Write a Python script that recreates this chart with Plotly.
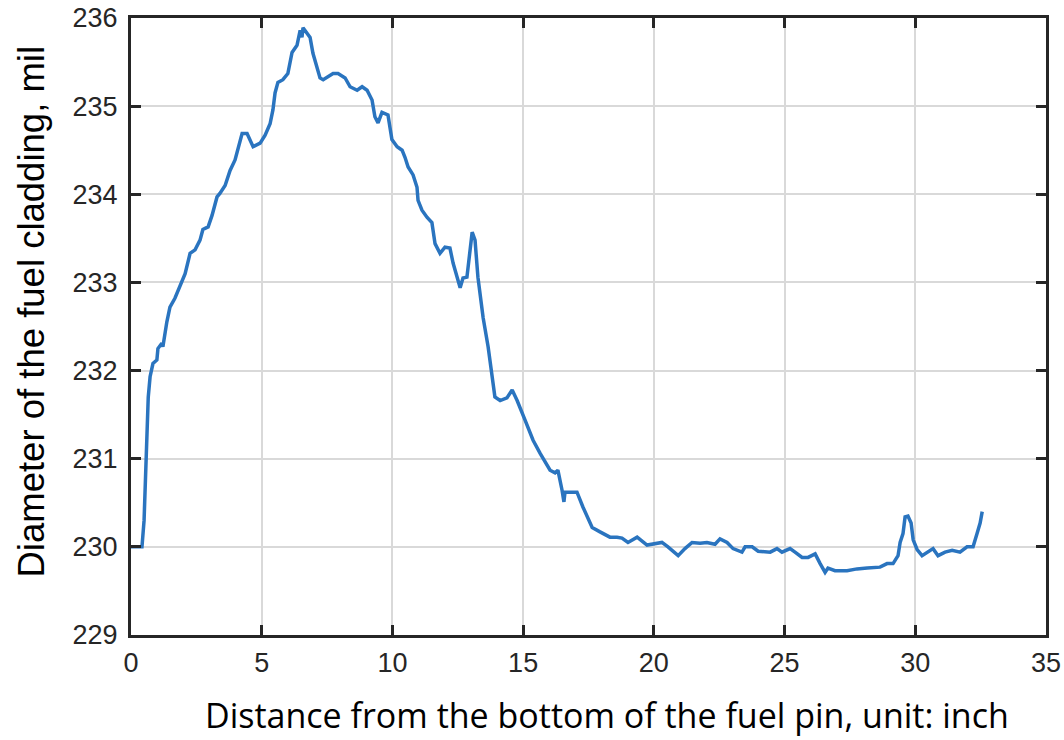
import plotly.graph_objects as go

distance_inch = [
    0, 0.42, 0.5, 0.54, 0.6, 0.66, 0.73, 0.84, 0.99, 1.03, 1.18, 1.22, 1.37, 1.49, 1.68, 1.87,
    2.07, 2.26, 2.45, 2.64, 2.75, 2.95, 3.1, 3.29, 3.4, 3.6, 3.79, 3.98, 4.17, 4.25, 4.44, 4.67,
    4.94, 5.13, 5.32, 5.43, 5.51, 5.62, 5.81, 6.0, 6.16, 6.35, 6.47, 6.54, 6.58, 6.73, 6.85, 6.96,
    7.12, 7.23, 7.35, 7.54, 7.73, 7.92, 8.19, 8.38, 8.65, 8.84, 9.03, 9.22, 9.33, 9.45, 9.6, 9.83,
    9.98, 10.18, 10.37, 10.48, 10.6, 10.79, 10.94, 10.98, 11.13, 11.32, 11.51, 11.63, 11.82, 12.01,
    12.2, 12.32, 12.47, 12.59, 12.7, 12.85, 13.05, 13.16, 13.27, 13.47, 13.66, 13.92, 14.12, 14.38,
    14.58, 14.77, 15.07, 15.38, 15.65, 16.03, 16.22, 16.33, 16.49, 16.56, 16.6, 16.79, 17.06, 17.29,
    17.64, 17.94, 18.32, 18.59, 18.78, 19.01, 19.36, 19.74, 20.12, 20.31, 20.54, 20.93, 21.19, 21.46,
    21.77, 22.03, 22.34, 22.53, 22.8, 23.03, 23.37, 23.49, 23.76, 23.99, 24.45, 24.71, 24.9, 25.21,
    25.4, 25.67, 25.9, 26.17, 26.36, 26.55, 26.66, 26.93, 27.39, 27.77, 28.16, 28.65, 28.92, 29.15,
    29.34, 29.42, 29.53, 29.61, 29.72, 29.84, 29.92, 30.07, 30.26, 30.49, 30.68, 30.87, 31.14, 31.41,
    31.71, 31.98, 32.21, 32.36, 32.48, 32.56,
]

diameter_mil = [
    230.0, 230.0, 230.3, 230.68, 231.2, 231.7, 231.93, 232.08, 232.12, 232.25, 232.31, 232.27, 232.55,
    232.72, 232.82, 232.95, 233.1, 233.33, 233.37, 233.48, 233.6, 233.63, 233.76, 233.97, 234.01,
    234.1, 234.27, 234.39, 234.62, 234.69, 234.69, 234.54, 234.58, 234.67, 234.8, 234.96, 235.15,
    235.27, 235.3, 235.37, 235.61, 235.69, 235.86, 235.78, 235.89, 235.83, 235.78, 235.6, 235.44,
    235.32, 235.3, 235.33, 235.37, 235.37, 235.32, 235.22, 235.18, 235.22, 235.18, 235.07, 234.88,
    234.81, 234.93, 234.9, 234.62, 234.54, 234.5, 234.42, 234.31, 234.22, 234.08, 233.93, 233.82,
    233.74, 233.68, 233.44, 233.33, 233.4, 233.39, 233.22, 233.06, 232.94, 233.05, 233.06, 233.57,
    233.48, 233.06, 232.6, 232.27, 231.7, 231.66, 231.69, 231.78, 231.66, 231.44, 231.21, 231.06,
    230.87, 230.84, 230.87, 230.64, 230.51, 230.62, 230.62, 230.62, 230.45, 230.22, 230.17, 230.11,
    230.11, 230.1, 230.05, 230.11, 230.02, 230.04, 230.05, 230.0, 229.9, 229.98, 230.05, 230.04,
    230.05, 230.03, 230.09, 230.05, 229.98, 229.94, 230.0, 230.0, 229.95, 229.94, 229.98, 229.94,
    229.98, 229.94, 229.88, 229.88, 229.92, 229.81, 229.71, 229.76, 229.73, 229.73, 229.75, 229.76,
    229.77, 229.81, 229.81, 229.9, 230.05, 230.15, 230.34, 230.35, 230.27, 230.08, 229.97, 229.9,
    229.94, 229.98, 229.9, 229.94, 229.96, 229.94, 230.0, 230.0, 230.15, 230.27, 230.4,
]

x_ticks = [0, 5, 10, 15, 20, 25, 30, 35]
y_ticks = [229, 230, 231, 232, 233, 234, 235, 236]

x_title = "Distance from the bottom of the fuel pin, unit: inch"
y_title = "Diameter of the fuel cladding, mil"

axis_color = "#262626"
grid_color = "#d9d9d9"

fig = go.Figure()
fig.add_trace(go.Scatter(
    x=distance_inch, y=diameter_mil, mode="lines",
    line=dict(color="#2a74bf", width=3.5),
    showlegend=False,
))

common = dict(
    showline=True, linecolor=axis_color, linewidth=3, mirror="ticks",
    ticks="inside", ticklen=10, tickwidth=3, tickcolor=axis_color,
    showgrid=True, gridcolor=grid_color, gridwidth=2,
    zeroline=False,
    tickfont=dict(family="Liberation Sans, Arial, sans-serif", size=27, color="#262626"),
)

fig.update_xaxes(
    range=[0, 35], tickvals=x_ticks, ticktext=[str(v) for v in x_ticks],
    ticklabelstandoff=2,
    **common,
)
fig.update_yaxes(
    range=[229, 236], tickvals=y_ticks, ticktext=[str(v) for v in y_ticks],
    ticklabelstandoff=5,
    **common,
)

fig.update_layout(
    width=1064, height=740,
    margin=dict(l=131, r=18, t=18, b=105, autoexpand=False),
    paper_bgcolor="white", plot_bgcolor="white",
    annotations=[
        dict(
            text=x_title, xref="paper", yref="paper", x=0.5, y=0,
            xanchor="center", yanchor="middle", xshift=18, yshift=-80,
            showarrow=False,
            font=dict(family="Open Sans, sans-serif", size=34, color="#000000"),
        ),
        dict(
            text=y_title, xref="paper", yref="paper", x=0, y=0.5,
            xanchor="center", yanchor="middle", xshift=-100, yshift=15,
            textangle=-90, showarrow=False,
            font=dict(family="Liberation Sans, Arial, sans-serif", size=36.5, color="#000000"),
        ),
    ],
)

fig.write_html("out.html")
